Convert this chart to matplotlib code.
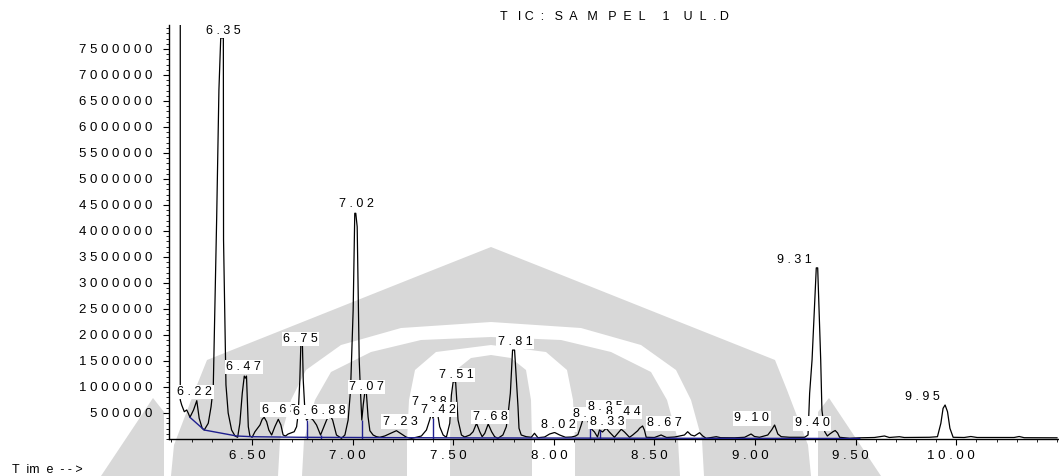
import matplotlib.pyplot as plt
import numpy as np
from matplotlib.ticker import MultipleLocator, FixedLocator
from matplotlib.transforms import ScaledTranslation
from matplotlib.patches import Polygon

plt.rcParams['font.family'] = ['Liberation Sans', 'DejaVu Sans']

# TIC trace (time in min, abundance)
time_min = [6.144, 6.144, 6.151, 6.164, 6.176, 6.184, 6.192, 6.210, 6.226, 6.238,
            6.253, 6.263, 6.283, 6.297, 6.308, 6.325, 6.336, 6.345, 6.358, 6.359,
            6.371, 6.382, 6.399, 6.416, 6.429, 6.440, 6.452, 6.462, 6.467, 6.473,
            6.477, 6.482, 6.490, 6.501, 6.515, 6.528, 6.540, 6.551, 6.561, 6.573,
            6.584, 6.598, 6.614, 6.631, 6.644, 6.655, 6.667, 6.680, 6.697, 6.710,
            6.722, 6.730, 6.738, 6.743, 6.751, 6.755, 6.763, 6.771, 6.788, 6.804,
            6.821, 6.841, 6.871, 6.887, 6.901, 6.920, 6.945, 6.962, 6.978, 6.990,
            6.995, 7.003, 7.011, 7.016, 7.023, 7.033, 7.039, 7.046, 7.053, 7.061,
            7.069, 7.077, 7.086, 7.102, 7.119, 7.135, 7.160, 7.190, 7.218, 7.243,
            7.268, 7.293, 7.317, 7.342, 7.367, 7.383, 7.392, 7.400, 7.408, 7.425,
            7.433, 7.450, 7.466, 7.483, 7.491, 7.500, 7.512, 7.516, 7.524, 7.541,
            7.557, 7.583, 7.599, 7.616, 7.632, 7.644, 7.657, 7.674, 7.691, 7.706,
            7.722, 7.747, 7.764, 7.775, 7.784, 7.795, 7.805, 7.822, 7.827, 7.838,
            7.863, 7.888, 7.904, 7.921, 7.954, 7.979, 8.004, 8.029, 8.058, 8.088,
            8.108, 8.120, 8.136, 8.153, 8.168, 8.182, 8.202, 8.217, 8.227, 8.242,
            8.260, 8.276, 8.301, 8.318, 8.335, 8.351, 8.376, 8.392, 8.417, 8.426,
            8.441, 8.450, 8.459, 8.500, 8.533, 8.560, 8.600, 8.624, 8.649, 8.665,
            8.682, 8.699, 8.724, 8.740, 8.757, 8.783, 8.807, 8.829, 8.898, 8.948,
            8.980, 8.997, 9.022, 9.063, 9.082, 9.097, 9.113, 9.130, 9.171, 9.246,
            9.263, 9.271, 9.283, 9.304, 9.311, 9.326, 9.332, 9.346, 9.359, 9.371,
            9.387, 9.398, 9.410, 9.420, 9.470, 9.519, 9.593, 9.643, 9.667, 9.717,
            9.741, 9.866, 9.906, 9.923, 9.934, 9.944, 9.956, 9.968, 9.984, 10.039,
            10.072, 10.103, 10.287, 10.312, 10.337, 10.500]
abundance = [9000000, 750000, 654000, 525000, 558000, 494000, 417000, 558000, 737000, 398000,
             206000, 173000, 302000, 621000, 1006000, 4275000, 6710000, 7710000, 7710000, 3830000,
             1040000, 500000, 173000, 58000, 33000, 302000, 879000, 1210000, 1170000, 1210000,
             750000, 237000, 58000, 33000, 140000, 206000, 269000, 379000, 417000, 333000,
             173000, 77000, 237000, 379000, 269000, 77000, 58000, 96000, 121000, 140000,
             237000, 494000, 1130000, 1810000, 1810000, 1130000, 558000, 365000, 417000, 365000,
             269000, 77000, 365000, 462000, 365000, 77000, 13000, 77000, 365000, 942000,
             1520000, 2480000, 4340000, 4340000, 4080000, 1520000, 942000, 365000, 654000, 904000,
             865000, 429000, 160000, 77000, 44000, 33000, 58000, 110000, 160000, 96000,
             33000, 13000, 33000, 58000, 173000, 365000, 494000, 398000, 590000, 429000,
             237000, 77000, 33000, 302000, 846000, 1100000, 1100000, 846000, 365000, 77000,
             38000, 77000, 140000, 302000, 140000, 44000, 110000, 288000, 140000, 44000,
             13000, 77000, 237000, 558000, 879000, 1710000, 1710000, 621000, 206000, 77000,
             44000, 33000, 110000, 25000, 38000, 96000, 125000, 77000, 33000, 38000,
             58000, 87000, 269000, 481000, 365000, 212000, 135000, 38000, 173000, 135000,
             206000, 135000, 33000, 110000, 187000, 135000, 33000, 77000, 160000, 206000,
             250000, 173000, 33000, 29000, 77000, 29000, 38000, 58000, 77000, 140000,
             77000, 58000, 121000, 58000, 13000, 29000, 44000, 25000, 23000, 33000,
             96000, 48000, 33000, 77000, 173000, 269000, 96000, 44000, 33000, 33000,
             77000, 879000, 1520000, 3290000, 3290000, 1520000, 558000, 140000, 58000, 96000,
             140000, 163000, 115000, 33000, 13000, 23000, 29000, 58000, 29000, 44000,
             29000, 33000, 44000, 302000, 590000, 654000, 525000, 206000, 33000, 29000,
             48000, 29000, 29000, 48000, 25000, 23000]

# integration baseline and drop lines
base_time = [6.192, 6.263, 6.424, 6.501, 6.738, 7.500, 8.500, 9.520]
base_abund = [417000, 173000, 58000, 44000, 33000, 22000, 15000, 10000]
drop_time = [6.776, 6.841, 7.047, 7.400, 8.182, 8.227]
drop_top = [365000, 77000, 365000, 398000, 212000, 173000]

# peak labels, in drawing order (later ones cover earlier ones)
peak_text = ['6.35', '6.22', '6.47', '6.75', '6.63', '6.79', '6.88', '7.02', '7.07',
             '7.23', '7.38', '7.42', '7.51', '7.68', '7.81', '8.15', '8.02', '8.25',
             '8.44', '8.33', '8.67', '9.10', '9.31', '9.40', '9.95']
label_x = [6.273, 6.130, 6.373, 6.656, 6.549, 6.703, 6.793, 6.932, 6.982,
           7.150, 7.294, 7.339, 7.428, 7.597, 7.721, 8.093, 7.935, 8.168,
           8.258, 8.178, 8.464, 8.897, 9.108, 9.197, 9.744]
label_y = [7846000, 905000, 1385000, 1925000, 560000, 520000, 540000, 4520000, 1000000,
           335000, 710000, 560000, 1230000, 425000, 1865000, 481000, 270000, 615000,
           520000, 330000, 305000, 400000, 3450000, 305000, 810000]

yticks = np.arange(500000, 7500001, 500000)
xticks = [6.5, 7.0, 7.5, 8.0, 8.5, 9.0, 9.5, 10.0]

W, H = 1059, 476


def spaced(s):
    return ' '.join(s)


def bell(half, cx=491):
    # symmetric outline from (half-width, y) pairs, bottom to top, in pixels
    right = [(cx + d, y) for d, y in half]
    left = [(cx - d, y) for d, y in half[::-1]]
    return [(x / W, 1 - y / H) for x, y in right + left]


fig = plt.figure(figsize=(10.59, 4.76), dpi=100)

# faint logo watermark behind the chart
grey = '#d8d8d8'
layers = [
    (grey, [(320, 476), (317, 445), (296, 390), (284, 360), (191, 323), (58, 270), (0, 247)]),
    ('white', [(213, 476), (211, 440), (200, 400), (185, 370), (150, 345), (90, 328), (0, 322)]),
    (grey, [(189, 476), (187, 440), (176, 400), (160, 372), (120, 352), (70, 340), (0, 337)]),
    ('white', [(84, 476), (84, 440), (82, 400), (76, 370), (55, 352), (0, 345)]),
    (grey, [(41, 476), (41, 440), (40, 400), (35, 370), (20, 358), (0, 355)]),
]
for col, half in layers:
    fig.add_artist(Polygon(bell(half), closed=True, facecolor=col, edgecolor='none',
                           transform=fig.transFigure, zorder=-2))
for side in (1, -1):
    sliver = [(491 + side * d, y) for d, y in [(327, 476), (327, 412), (338, 398), (390, 476)]]
    fig.add_artist(Polygon([(x / W, 1 - y / H) for x, y in sliver], closed=True,
                           facecolor=grey, edgecolor='none', transform=fig.transFigure, zorder=-2))

ax = fig.add_axes([169 / W, 1 - 439 / H, 889 / W, 414 / H])
ax.set_facecolor('none')

ax.plot(time_min, abundance, color='black', lw=0.9, zorder=3)
ax.plot(base_time, base_abund, color='#1f1f8f', lw=1.0, zorder=4)
ax.vlines(drop_time, 0, drop_top, color='#1f1f8f', lw=1.0, zorder=4)

for txt, lx, ly in zip(peak_text, label_x, label_y):
    ax.text(lx, ly, spaced(txt), fontsize=9, ha='left', va='center', zorder=5,
            bbox=dict(facecolor='white', edgecolor='none', pad=1.0))

ax.set_xlim(6.088, 10.505)
ax.set_ylim(0, 7960000)

for s in ['top', 'right']:
    ax.spines[s].set_visible(False)
for s in ['left', 'bottom']:
    ax.spines[s].set_linewidth(1.0)

ax.yaxis.set_major_locator(FixedLocator(yticks))
ax.yaxis.set_minor_locator(MultipleLocator(100000))
ax.set_yticklabels([spaced(str(v)) for v in yticks])
ax.xaxis.set_major_locator(FixedLocator(xticks))
ax.xaxis.set_minor_locator(MultipleLocator(0.1))
ax.set_xticklabels([spaced('%.2f' % v) for v in xticks])
ax.tick_params(axis='both', which='major', labelsize=9.5, length=4, width=0.8, color='black')
ax.tick_params(axis='both', which='minor', length=2.5, width=0.6)
ax.tick_params(axis='y', pad=8)
ax.tick_params(axis='x', pad=4)
for lab in ax.get_xticklabels():
    lab.set_transform(lab.get_transform() + ScaledTranslation(-5 / 100, 0, fig.dpi_scale_trans))

fig.text(500 / W, 1 - 17 / H, 'T   I C  :   S  A   M   P  E  L     1    U  L  . D', fontsize=9,
         ha='left', va='center')
fig.text(12 / W, 1 - 470 / H, 'T  im  e  - - >', fontsize=9, ha='left', va='center')

fig.savefig('out.png', dpi=100)
